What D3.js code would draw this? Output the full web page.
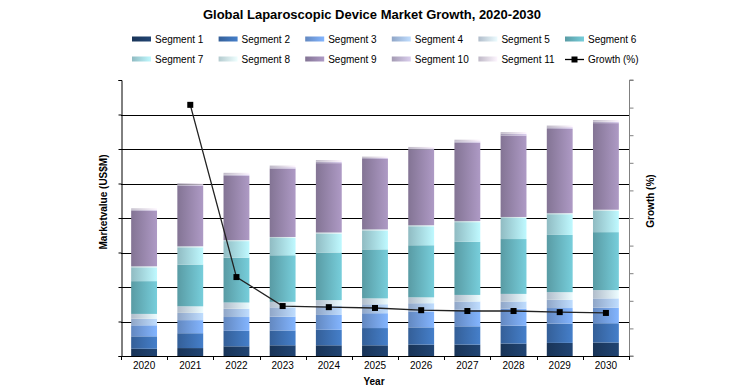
<!DOCTYPE html>
<html><head><meta charset="utf-8">
<script src="https://cdn.jsdelivr.net/npm/d3@7/dist/d3.min.js"></script>
<style>body{margin:0;background:#fff}svg{font-family:"Liberation Sans",Arial,sans-serif;display:block}</style>
</head><body><svg id="c" width="745" height="390"></svg>
<script>
const years = ["2020","2021","2022","2023","2024","2025","2026","2027","2028","2029","2030"];
const segmentNames = ["Segment 1","Segment 2","Segment 3","Segment 4","Segment 5","Segment 6","Segment 7","Segment 8","Segment 9","Segment 10","Segment 11"];
const seg1  = [21,23,28,31,31,31,33,33,36,38,39];
const seg2  = [36,43,45,43,45,50,50,53,52,56,56];
const seg3  = [32,38,40,40,43,43,46,48,49,45,45];
const seg4  = [19,21,24,27,27,26,24,24,21,24,27];
const seg5  = [14,19,18,16,16,17,17,19,22,22,24];
const seg6  = [95,121,130,135,138,142,151,154,159,166,168];
const seg7  = [40,50,48,50,55,55,55,57,61,60,62];
const seg8  = [3,3,3,3,3,3,3,3,3,3,3];
const seg9  = [161,176,186,198,201,204,219,227,236,244,251];
const seg10 = [3,3,4,4,4,3,4,4,5,5,4];
const seg11 = [4,4,5,5,5,4,4,5,5,5,5];
const growth = [null,91.0,28.6,18.1,17.7,17.4,16.6,16.3,16.3,15.9,15.6];
const leftTicks = [0,100,200,300,400,500,600,700,800];
const rightTicks = [0,10,20,30,40,50,60,70,80,90,100];
const segColors = ["#1d3d66","#3d70b2","#74a0e2","#a9c3ea","#d0deee","#69b6c1","#a9dce4","#d3eef3","#9a88ae","#c0b6d2","#e0d9ea"];

const segs = [seg1,seg2,seg3,seg4,seg5,seg6,seg7,seg8,seg9,seg10,seg11];
const rows = years.map((y,i)=>{const r={year:y}; segs.forEach((s,k)=>r["s"+k]=s[i]); return r;});
const keys = segs.map((s,k)=>"s"+k);

const svg = d3.select("#c");
const M = {l:121, r:629, t:80, b:356};
const x = d3.scaleBand().domain(years).range([M.l,M.r]).paddingInner(0.44).paddingOuter(0.22);
const xb = d3.scaleBand().domain(years).range([M.l,M.r]);
const y = d3.scaleLinear().domain([0,800]).range([M.b,M.t]);
const y2 = d3.scaleLinear().domain([0,100]).range([M.b,M.t]);

const defs = svg.append("defs");
segColors.forEach((c,k)=>{
  const g = defs.append("linearGradient").attr("id","g"+k).attr("x1",0).attr("x2",1).attr("y1",0).attr("y2",0);
  g.append("stop").attr("offset","0%").attr("stop-color",d3.color(c).darker(0.45));
  g.append("stop").attr("offset","100%").attr("stop-color",d3.color(c).brighter(0.35));
});

// title
svg.append("text").attr("x",372).attr("y",19).attr("text-anchor","middle")
  .attr("font-size",13).attr("font-weight","bold").text("Global Laparoscopic Device Market Growth, 2020-2030");

// gridlines
svg.append("g").selectAll("line").data(leftTicks.filter(t=>t>0&&t<800)).join("line")
  .attr("x1",M.l).attr("x2",M.r).attr("y1",d=>Math.round(y(d))+0.5).attr("y2",d=>Math.round(y(d))+0.5)
  .attr("stroke","#000").attr("stroke-width",1);

// bars
const stack = d3.stack().keys(keys)(rows);
svg.append("g").selectAll("g").data(stack).join("g")
  .attr("fill",(d,i)=>`url(#g${i})`)
  .selectAll("rect").data(d=>d).join("rect")
  .attr("x",d=>x(d.data.year)).attr("width",x.bandwidth())
  .attr("y",d=>y(d[1])).attr("height",d=>y(d[0])-y(d[1]));

// left axis
const la = svg.append("g").attr("transform",`translate(${M.l+0.5},0)`)
  .call(d3.axisLeft(y).tickValues(leftTicks).tickSize(3).tickFormat(""));
la.selectAll("path,line").attr("stroke","#000");
// right axis
const ra = svg.append("g").attr("transform",`translate(${M.r+0.5},0)`)
  .call(d3.axisRight(y2).tickValues(rightTicks).tickSize(4).tickFormat(""));
ra.selectAll("path,line").attr("stroke","#808080");
ra.select("path").attr("d",`M4,${M.t}H0V${M.b}H4`);
// bottom axis
const ba = svg.append("g").attr("transform",`translate(0,${M.b+0.5})`)
  .call(d3.axisBottom(xb).tickSize(0).tickPadding(5).tickSizeOuter(0));
ba.select("path").attr("stroke","#000").attr("d",`M${M.l},0H${M.r}`);
ba.selectAll("text").attr("font-size",10).attr("font-family","Liberation Sans, Arial, sans-serif").attr("fill","#000");
svg.append("g").selectAll("line").data(years.concat(["end"])).join("line")
  .attr("x1",(d,i)=>Math.round(M.l+i*xb.step())+0.5).attr("x2",(d,i)=>Math.round(M.l+i*xb.step())+0.5)
  .attr("y1",M.b).attr("y2",M.b+4).attr("stroke","#000");

// growth line
const gpts = years.map((yr,i)=>({yr,v:growth[i]})).filter(d=>d.v!=null);
svg.append("path").datum(gpts)
  .attr("d",d3.line().x(d=>xb(d.yr)+xb.bandwidth()/2).y(d=>y2(d.v)))
  .attr("fill","none").attr("stroke","#222").attr("stroke-width",1.3);
svg.append("g").selectAll("rect").data(gpts).join("rect")
  .attr("x",d=>xb(d.yr)+xb.bandwidth()/2-3).attr("y",d=>y2(d.v)-3)
  .attr("width",6).attr("height",6).attr("fill","#000");

// axis titles
svg.append("text").attr("transform","translate(107,202) rotate(-90)").attr("text-anchor","middle")
  .attr("font-size",10).attr("font-weight","bold").text("Marketvalue (US$M)");
svg.append("text").attr("transform","translate(654,201) rotate(-90)").attr("text-anchor","middle")
  .attr("font-size",10).attr("font-weight","bold").text("Growth (%)");
svg.append("text").attr("x",374).attr("y",385).attr("text-anchor","middle")
  .attr("font-size",10).attr("font-weight","bold").text("Year");

// legend
const legendItems = segmentNames.map((n,k)=>({n,k})).concat([{n:"Growth (%)",k:-1}]);
const lg = svg.append("g").selectAll("g").data(legendItems).join("g")
  .attr("transform",(d,i)=>`translate(${132+(i%6)*86.6},${i<6?39:59})`);
lg.filter(d=>d.k>=0).append("rect").attr("x",0).attr("y",-2.5).attr("width",19).attr("height",5)
  .attr("fill",d=>`url(#g${d.k})`);
const gl = lg.filter(d=>d.k<0);
gl.append("line").attr("x1",0).attr("x2",19).attr("y1",0.5).attr("y2",0.5).attr("stroke","#000").attr("stroke-width",1.3);
gl.append("rect").attr("x",6.5).attr("y",-2.5).attr("width",6).attr("height",6).attr("fill","#000");
lg.append("text").attr("x",23).attr("y",3.6).attr("font-size",10).text(d=>d.n);
</script></body></html>
